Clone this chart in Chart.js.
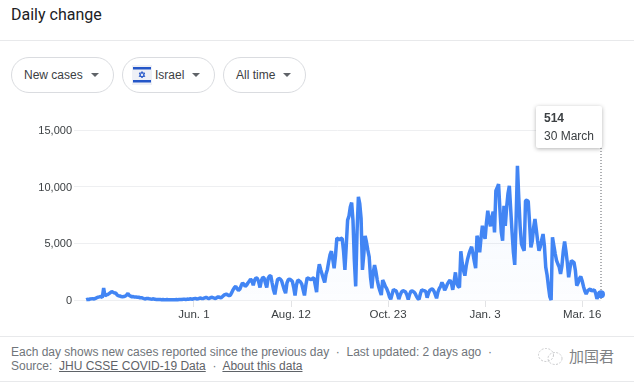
<!DOCTYPE html>
<html>
<head>
<meta charset="utf-8">
<title>Daily change</title>
<script src="https://cdn.jsdelivr.net/npm/chart.js@4"></script>
<style>
  html, body { margin: 0; padding: 0; background: #fff; overflow: hidden; }
  body { width: 634px; height: 383px; position: relative; font-family: "Liberation Sans", Arial, sans-serif; color: #3c4043; }
  .abs { position: absolute; white-space: nowrap; }
  .rule { position: absolute; left: 0; width: 634px; height: 1px; background: #e8e9eb; }
  .chip { position: absolute; top: 57px; height: 34px; border: 1px solid #dadce0; border-radius: 18px; font-size: 12px; line-height: 34px; }
  .chip span { position: absolute; top: 0; }
  .caret { position: absolute; top: 15px; width: 0; height: 0; border-left: 4.5px solid transparent; border-right: 4.5px solid transparent; border-top: 4.5px solid #5f6368; }
  #chart-wrap { position: absolute; left: 0; top: 110px; width: 634px; height: 220px; }
  #tip { position: absolute; left: 536px; top: 106px; width: 66px; height: 42px; background: #fff; border-radius: 2px; box-shadow: 0 1px 4px rgba(0,0,0,.3); font-size: 12px; }
  #foot { position: absolute; left: 11px; top: 345px; font-size: 12px; line-height: 14px; color: #70757a; white-space: nowrap; }
  #foot u { color: #5f6368; }
</style>
</head>
<body>
<div class="abs" style="left:11px;top:4px;font-family:Roboto;font-size:16px;line-height:22px;color:#202124">Daily change</div>
<div class="rule" style="top:40px"></div>

<div class="chip" style="left:11px;width:101px"><span style="left:12px">New cases</span><i class="caret" style="left:79px"></i></div>
<div class="chip" style="left:122px;width:91px">
  <svg style="position:absolute;left:9px;top:7px" width="20" height="20" viewBox="0 0 20 20">
    <rect width="20" height="20" fill="#eef0f6"/>
    <rect x="1" y="2" width="18" height="2.5" fill="#2456c8"/>
    <rect x="1" y="15" width="18" height="2.5" fill="#2456c8"/>
    <path d="M10 6.500l2.800 5H7.200zM10 13l-2.800-5h5.600z" fill="none" stroke="#2456c8" stroke-width=".9"/>
  </svg>
  <span style="left:32px">Israel</span><i class="caret" style="left:69px"></i>
</div>
<div class="chip" style="left:223px;width:81px"><span style="left:12px">All time</span><i class="caret" style="left:59px"></i></div>

<div id="chart-wrap"><canvas id="daily-chart" width="634" height="220"></canvas></div>

<div id="tip">
  <div class="abs" style="left:8px;top:5px;font-weight:700;line-height:14px">514</div>
  <div class="abs" style="left:8px;top:23px;line-height:14px">30 March</div>
</div>

<div class="rule" style="top:336px"></div>
<div id="foot">Each day shows new cases reported since the previous day &nbsp;·&nbsp; Last updated: 2 days ago &nbsp;·<br>Source: &nbsp;<u>JHU CSSE COVID-19 Data</u> &nbsp;·&nbsp; <u>About this data</u></div>
<div class="rule" style="top:381px"></div>

<svg style="position:absolute;left:537px;top:347px" width="27" height="19" viewBox="0 0 27 19">
  <ellipse cx="9" cy="8" rx="7.500" ry="6.500" fill="none" stroke="#c9cacc" stroke-width="1" stroke-dasharray="2 1.500"/>
  <ellipse cx="18" cy="11.500" rx="7" ry="6" fill="none" stroke="#c9cacc" stroke-width="1" stroke-dasharray="2 1.500"/>
</svg>
<div class="abs" style="left:569px;top:346px;font-family:'Noto Sans CJK SC';font-size:15px;line-height:20px;color:#808285">加国君</div>

<script>
// Eje X: dias desde el 13 de marzo de 2020
const tickDays = [80, 152, 224, 296, 368];
const tickLabels = ['Jun. 1', 'Aug. 12', 'Oct. 23', 'Jan. 3', 'Mar. 16'];
const yTicks = [0, 5000, 10000, 15000];

// Casos nuevos por dia (10 por fila)
const newCases = [
  20, 60, 40, 90, 100, 120, 80, 150, 200, 250,
  280, 300, 230, 1050, 350, 450, 480, 560, 650, 740,
  680, 620, 620, 450, 380, 350, 310, 280, 300, 340,
  430, 580, 400, 340, 280, 300, 260, 270, 250, 240,
  200, 210, 160, 120, 90, 140, 130, 100, 80, 70,
  110, 60, 55, 50, 40, 45, 30, 35, 25, 30,
  40, 25, 20, 30, 25, 20, 30, 40, 30, 45,
  50, 35, 60, 70, 50, 80, 60, 110, 90, 70,
  120, 140, 90, 110, 150, 170, 120, 140, 190, 240,
  170, 130, 180, 250, 210, 170, 130, 210, 280, 240,
  170, 280, 400, 480, 520, 450, 390, 420, 650, 900,
  1100, 1200, 1000, 850, 950, 1250, 1500, 1400, 1200, 1300,
  1500, 1650, 1850, 1700, 1300, 1750, 1950, 1900, 1600, 1100,
  1700, 2000, 1950, 1500, 1100, 1900, 2100, 2150, 1500, 900,
  500, 1200, 1800, 1900, 1850, 1700, 1300, 900, 600, 1500,
  1800, 1850, 1750, 1650, 1100, 400, 1300, 1750, 1700, 1600,
  1400, 900, 400, 1300, 1950, 1900, 1850, 1800, 1900, 1950,
  1300, 700, 2400, 3150, 2700, 2300, 1900, 1550, 2300, 2700,
  3400, 4000, 4300, 3600, 2800, 3900, 5450, 5400, 5300, 5450,
  5400, 4300, 2650, 4800, 7050, 7400, 8200, 8600, 7000, 3500,
  1200, 6000, 9100, 8500, 7200, 2650, 4000, 5650, 5100, 4400,
  3800, 2000, 1030, 2400, 3090, 2500, 1760, 1200, 800, 440,
  1760, 1500, 1200, 1000, 700, 300, 60, 500, 940, 850,
  800, 500, 80, 450, 700, 820, 780, 700, 450, 50,
  500, 780, 800, 720, 600, 350, 150, 50, 550, 900,
  850, 820, 750, 200, 600, 850, 950, 970, 800, 500,
  150, 700, 1000, 1200, 1550, 1300, 850, 1100, 1400, 1600,
  1750, 1500, 900, 1600, 2440, 1500, 1200, 1100, 4300, 3300,
  2600, 2150, 3000, 3600, 4050, 4400, 4700, 4100, 3400, 2800,
  5670, 5200, 4200, 5500, 6550, 5800, 5400, 6800, 7880, 7000,
  6500, 7300, 7800, 5970, 9640, 9900, 10230, 8000, 6000, 5230,
  8320, 6550, 8200, 9400, 10080, 8000, 6000, 4200, 3100, 7000,
  11850, 9000, 6500, 4940, 4600, 4350, 8760, 8800, 8700, 6800,
  4650, 5200, 6400, 7140, 6200, 5200, 4350, 4700, 5300, 5820,
  4800, 2900, 2200, 1200, 300, 0, 5530, 4800, 4100, 3500,
  3175, 2900, 2300, 3000, 4300, 5170, 4300, 3300, 2000, 2800,
  3470, 3400, 3300, 2600, 1260, 1500, 1900, 2060, 1700, 1200,
  800, 530, 800, 900, 970, 800, 850, 900, 600, 100,
  400, 700, 514
];

const lastDay = newCases.length - 1;

// Linea punteada vertical del ultimo dia
const hoverLine = {
  id: 'hoverLine',
  beforeDatasetsDraw(chart) {
    const x = chart.scales.x.getPixelForValue(lastDay);
    const ctx = chart.ctx;
    ctx.save();
    ctx.strokeStyle = '#5f6368';
    ctx.lineWidth = 1;
    ctx.setLineDash([1, 2]);
    ctx.beginPath();
    ctx.moveTo(x, 38);
    ctx.lineTo(x, chart.scales.y.bottom);
    ctx.stroke();
    ctx.restore();
  }
};

const canvas = document.getElementById('daily-chart');
const fade = canvas.getContext('2d').createLinearGradient(0, 60, 0, 190);
fade.addColorStop(0, 'rgba(66, 133, 244, 0.06)');
fade.addColorStop(1, 'rgba(66, 133, 244, 0.015)');

new Chart(canvas.getContext('2d'), {
  type: 'line',
  data: {
    datasets: [{
      label: 'New cases',
      data: newCases.map((v, i) => ({ x: i, y: v })),
      borderColor: '#4285f4',
      borderWidth: 3.5,
      borderJoinStyle: 'bevel',
      backgroundColor: fade,
      fill: 'origin',
      tension: 0,
      clip: false,
      pointRadius: ctx => (ctx.dataIndex === lastDay ? 4 : 0),
      pointBackgroundColor: '#4285f4',
      pointBorderWidth: 0
    }]
  },
  options: {
    responsive: false,
    animation: false,
    layout: { padding: { top: 20, right: 33, left: 0, bottom: 0 } },
    plugins: { legend: { display: false }, tooltip: { enabled: false } },
    scales: {
      x: {
        type: 'linear',
        min: -9,
        max: lastDay,
        afterBuildTicks: scale => { scale.ticks = tickDays.map(value => ({ value })); },
        afterFit: scale => { scale.height = 30; },
        border: { display: false },
        grid: { drawOnChartArea: false, tickLength: 7, color: '#e2e3e5' },
        ticks: {
          autoSkip: false,
          maxRotation: 0,
          padding: 1,
          color: '#3c4043',
          font: { family: 'Liberation Sans', size: 11.5 },
          callback: value => tickLabels[tickDays.indexOf(value)]
        }
      },
      y: {
        min: 0,
        max: 15000,
        afterBuildTicks: scale => { scale.ticks = yTicks.map(value => ({ value })); },
        afterFit: scale => { scale.width = 74; },
        border: { display: false },
        grid: { drawTicks: false, color: '#eeeff1' },
        ticks: {
          padding: 2,
          labelOffset: 1,
          color: '#3c4043',
          font: { family: 'Liberation Sans', size: 11 },
          callback: value => value.toLocaleString('en-US')
        }
      }
    }
  },
  plugins: [hoverLine]
});
</script>
</body>
</html>
